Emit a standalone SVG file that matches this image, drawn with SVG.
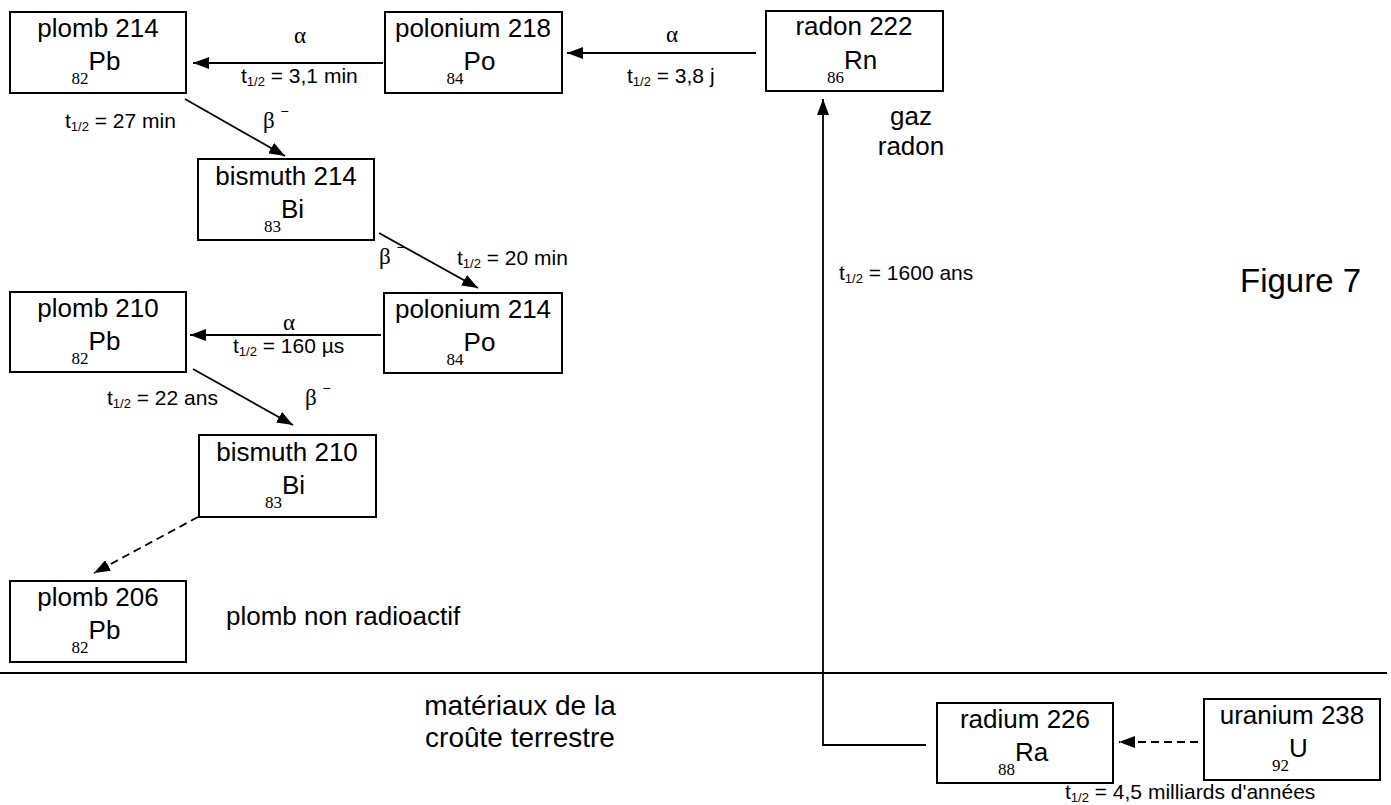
<svg xmlns="http://www.w3.org/2000/svg" width="1391" height="805" viewBox="0 0 1391 805">
<defs>
<marker id="ah" markerUnits="userSpaceOnUse" markerWidth="16" markerHeight="12" refX="16" refY="6" orient="auto">
<path d="M0,0 L16,6 L0,12 z" fill="#000"/>
</marker>
<style>
.box{fill:#fff;stroke:#000;stroke-width:2}
.t{font-family:"Liberation Sans",Arial,sans-serif;font-size:26px;fill:#000}
.nm{text-anchor:middle}
.z{font-family:"Liberation Serif","Times New Roman",serif;font-size:17px}
.lb{font-family:"Liberation Sans",Arial,sans-serif;font-size:21px;fill:#000}
.sb{font-size:13px}
.gr{font-family:"Liberation Serif","Times New Roman",serif;font-size:23px;fill:#000}
.sup{font-family:"Liberation Sans",Arial,sans-serif;font-size:14px}
.ln{stroke:#000;stroke-width:1.8;fill:none}
.ar{marker-end:url(#ah)}
.da{stroke-dasharray:8 5}
.big{font-size:28px}
.fig{font-size:33px}
</style>
</defs>

<g id="connectors">
<line class="ln ar" x1="383" y1="63" x2="193" y2="63"/>
<line class="ln ar" x1="756" y1="53" x2="567" y2="53"/>
<line class="ln ar" x1="185" y1="99" x2="285" y2="156"/>
<line class="ln ar" x1="379" y1="233" x2="478" y2="288"/>
<line class="ln ar" x1="381" y1="335" x2="190" y2="335"/>
<line class="ln ar" x1="193" y1="369" x2="293" y2="425"/>
<line class="ln ar da" x1="198" y1="517" x2="94" y2="573"/>
<line class="ln ar da" x1="1198" y1="742" x2="1119" y2="742"/>
<polyline class="ln ar" points="926,745 823,745 823,99"/>
</g>

<line id="separator" x1="0" y1="673" x2="1387" y2="673" stroke="#000" stroke-width="1.8"/>

<g id="plomb214">
<rect class="box" x="10" y="12" width="176" height="81"/>
<text class="t nm" x="98" y="37">plomb 214</text>
<text class="t nm" x="96" y="70"><tspan class="z" dy="14">82</tspan><tspan dy="-14">Pb</tspan></text>
</g>
<g id="polonium218">
<rect class="box" x="385" y="12" width="177" height="81"/>
<text class="t nm" x="473" y="37">polonium 218</text>
<text class="t nm" x="471" y="70"><tspan class="z" dy="14">84</tspan><tspan dy="-14">Po</tspan></text>
</g>
<g id="radon222">
<rect class="box" x="766" y="11" width="177" height="80"/>
<text class="t nm" x="854" y="35">radon 222</text>
<text class="t nm" x="852" y="69"><tspan class="z" dy="14">86</tspan><tspan dy="-14">Rn</tspan></text>
</g>
<g id="bismuth214">
<rect class="box" x="198" y="159" width="176" height="81"/>
<text class="t nm" x="286" y="185">bismuth 214</text>
<text class="t nm" x="284" y="218"><tspan class="z" dy="14">83</tspan><tspan dy="-14">Bi</tspan></text>
</g>
<g id="plomb210">
<rect class="box" x="10" y="292" width="176" height="80"/>
<text class="t nm" x="98" y="317">plomb 210</text>
<text class="t nm" x="96" y="350"><tspan class="z" dy="14">82</tspan><tspan dy="-14">Pb</tspan></text>
</g>
<g id="polonium214">
<rect class="box" x="384" y="293" width="178" height="80"/>
<text class="t nm" x="473" y="318">polonium 214</text>
<text class="t nm" x="471" y="351"><tspan class="z" dy="14">84</tspan><tspan dy="-14">Po</tspan></text>
</g>
<g id="bismuth210">
<rect class="box" x="199" y="435" width="177" height="82"/>
<text class="t nm" x="287" y="461">bismuth 210</text>
<text class="t nm" x="285" y="494"><tspan class="z" dy="14">83</tspan><tspan dy="-14">Bi</tspan></text>
</g>
<g id="plomb206">
<rect class="box" x="10" y="581" width="176" height="81"/>
<text class="t nm" x="98" y="606">plomb 206</text>
<text class="t nm" x="96" y="639"><tspan class="z" dy="14">82</tspan><tspan dy="-14">Pb</tspan></text>
</g>
<g id="radium226">
<rect class="box" x="937" y="703" width="176" height="80"/>
<text class="t nm" x="1025" y="728">radium 226</text>
<text class="t nm" x="1023" y="761"><tspan class="z" dy="14">88</tspan><tspan dy="-14">Ra</tspan></text>
</g>
<g id="uranium238">
<rect class="box" x="1204" y="699" width="176" height="81"/>
<text class="t nm" x="1292" y="724">uranium 238</text>
<text class="t nm" x="1290" y="757"><tspan class="z" dy="14">92</tspan><tspan dy="-14">U</tspan></text>
</g>

<g id="labels">
<text class="gr" x="300" y="43" text-anchor="middle">α</text>
<text class="lb" x="241" y="83">t<tspan class="sb" dy="3">1/2</tspan><tspan dy="-3"> = 3,1 min</tspan></text>
<text class="gr" x="672" y="42" text-anchor="middle">α</text>
<text class="lb" x="627" y="83">t<tspan class="sb" dy="3">1/2</tspan><tspan dy="-3"> = 3,8 j</tspan></text>
<text class="lb" x="65" y="128">t<tspan class="sb" dy="3">1/2</tspan><tspan dy="-3"> = 27 min</tspan></text>
<text class="gr" x="263" y="128">β <tspan class="sup" dy="-12">−</tspan></text>
<text class="gr" x="379" y="264">β <tspan class="sup" dy="-12">−</tspan></text>
<text class="lb" x="457" y="265">t<tspan class="sb" dy="3">1/2</tspan><tspan dy="-3"> = 20 min</tspan></text>
<text class="gr" x="289" y="330" text-anchor="middle">α</text>
<text class="lb" x="233" y="353">t<tspan class="sb" dy="3">1/2</tspan><tspan dy="-3"> = 160 µs</tspan></text>
<text class="lb" x="107" y="405">t<tspan class="sb" dy="3">1/2</tspan><tspan dy="-3"> = 22 ans</tspan></text>
<text class="gr" x="305" y="405">β <tspan class="sup" dy="-12">−</tspan></text>
<text class="lb" x="839" y="280">t<tspan class="sb" dy="3">1/2</tspan><tspan dy="-3"> = 1600 ans</tspan></text>
<text class="lb" x="1065" y="799">t<tspan class="sb" dy="3">1/2</tspan><tspan dy="-3"> = 4,5 milliards d'années</tspan></text>
<text class="t nm" x="911" y="125">gaz</text>
<text class="t nm" x="911" y="155">radon</text>
<text class="t" x="226" y="625">plomb non radioactif</text>
<text class="t nm big" x="520" y="715">matériaux de la</text>
<text class="t nm big" x="520" y="747">croûte terrestre</text>
<text class="t fig" x="1240" y="292">Figure 7</text>
</g>
</svg>
